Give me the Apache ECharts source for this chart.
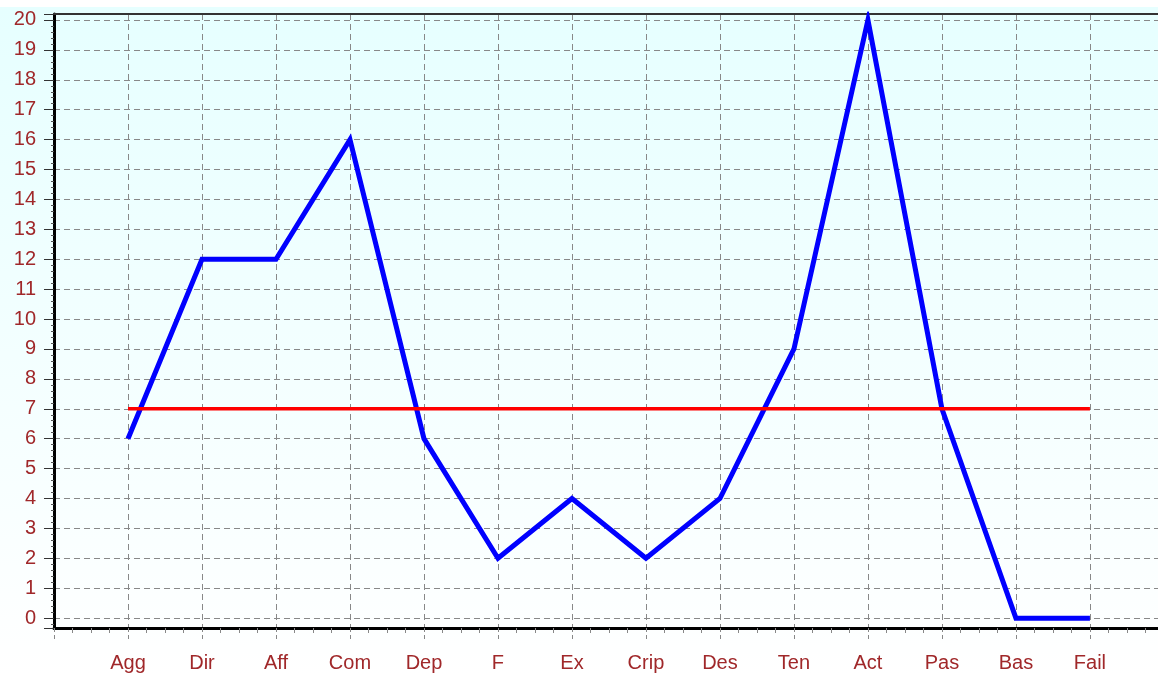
<!DOCTYPE html>
<html>
<head>
<meta charset="utf-8">
<script src="https://cdn.jsdelivr.net/npm/echarts@6/dist/echarts.min.js"></script>
<style>
  html, body { margin: 0; padding: 0; background: #fff; overflow: hidden; }
  #chart {
    width: 1158px; height: 675px;
    background: linear-gradient(to bottom, #fff 0px, #fff 7px, #e6ffff 7px, #ffffff 675px);
  }
</style>
</head>
<body>
<div id="chart"></div>
<script>
// scale categories (x positions 1..14)
const categories = ['Agg', 'Dir', 'Aff', 'Com', 'Dep', 'F', 'Ex', 'Crip', 'Des', 'Ten', 'Act', 'Pas', 'Bas', 'Fail'];
const scores = [6, 12, 12, 16, 6, 2, 4, 2, 4, 9, 20, 7, 0, 0];
const threshold = 7;

const labelColor = '#a0282a';
const font = 'Arial, "Liberation Sans", sans-serif';

const chart = echarts.init(document.getElementById('chart'), null, { renderer: 'canvas' });

const scorePoints = scores.map((v, i) => [i + 1, v]);
const thresholdPoints = [[1, threshold], [categories.length, threshold]];

chart.setOption({
  backgroundColor: 'transparent',
  animation: false,
  grid: { left: 54, right: 0, top: 14, bottom: 47, outerBoundsMode: 'none' },
  xAxis: [{
    type: 'value',
    min: 0,
    max: 14.92,
    interval: 1,
    axisLine: { show: true, onZero: false, lineStyle: { color: '#000', width: 3 } },
    axisTick: { show: true, length: 14, lineStyle: { color: '#888', type: [4, 3] } },
    minorTick: { show: true, splitNumber: 4, length: 5, lineStyle: { color: '#888' } },
    axisLabel: {
      margin: 25,
      color: labelColor,
      fontSize: 20,
      fontFamily: font,
      showMaxLabel: false,
      formatter: v => (Number.isInteger(v) ? categories[v - 1] || '' : '')
    },
    splitLine: { show: true, lineStyle: { color: '#888', type: [6, 4], width: 1 } }
  }, {
    type: 'value',
    position: 'top',
    min: 0,
    max: 14.92,
    axisLine: { show: true, onZero: false, lineStyle: { color: '#333', width: 2 } },
    axisTick: { show: false },
    axisLabel: { show: false },
    splitLine: { show: false }
  }],
  yAxis: {
    type: 'value',
    min: -0.33,
    max: 20.2,
    splitNumber: 20,
    minInterval: 1,
    maxInterval: 1,
    axisLine: { show: true, onZero: false, lineStyle: { color: '#000', width: 3 } },
    axisTick: { show: true, length: 10, lineStyle: { color: '#333' } },
    minorTick: { show: true, splitNumber: 5, length: 3, lineStyle: { color: '#555' } },
    axisLabel: {
      margin: 18,
      color: labelColor,
      fontSize: 20,
      fontFamily: font,
      showMinLabel: false,
      showMaxLabel: false,
      formatter: v => (Number.isInteger(v) ? String(v) : '')
    },
    splitLine: { show: true, lineStyle: { color: '#888', type: [6, 4], width: 1 } }
  },
  series: [{
    type: 'line',
    data: scorePoints,
    showSymbol: false,
    lineStyle: { color: '#0000ff', width: 5, join: 'miter' },
    silent: true
  }, {
    type: 'line',
    data: thresholdPoints,
    showSymbol: false,
    lineStyle: { color: '#ff0000', width: 3.5 },
    silent: true
  }]
});
</script>
</body>
</html>
